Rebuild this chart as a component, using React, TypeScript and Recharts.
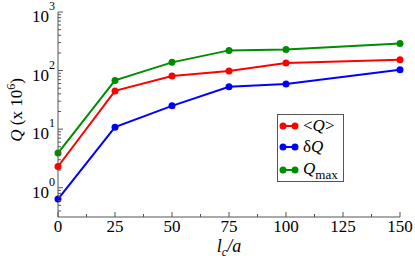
import React from "react";
import { LineChart, Line, XAxis, YAxis, Legend } from "recharts";

// l_c / a values
const lcValues = [0, 25, 50, 75, 100, 150];
// Q in units of 10^6
const meanQ = [2.3, 45, 81, 98, 134, 153];
const deltaQ = [0.64, 10.8, 25, 53, 59, 103];
const maxQ = [3.9, 68, 138, 221, 230, 291];

const xMajorTicks = [0, 25, 50, 75, 100, 125, 150];
const xTicks = [0, 12.5, 25, 37.5, 50, 62.5, 75, 87.5, 100, 112.5, 125, 137.5, 150];
const yMajorTicks = [1, 10, 100, 1000];
const yTicks = [
  0.4, 0.5, 0.6, 0.7, 0.8, 0.9,
  1, 2, 3, 4, 5, 6, 7, 8, 9,
  10, 20, 30, 40, 50, 60, 70, 80, 90,
  100, 200, 300, 400, 500, 600, 700, 800, 900,
  1000,
];

const data = lcValues.map((lc, i) => ({
  lc,
  mean: meanQ[i],
  delta: deltaQ[i],
  max: maxQ[i],
}));

const FONT = "Liberation Serif, Times New Roman, serif";
const FRAME = "#555";
const RED = "#ff0000";
const BLUE = "#0000ff";
const GREEN = "#008c00";

const isMajorX = (v: number) => xMajorTicks.includes(v);
const isMajorY = (v: number) => yMajorTicks.includes(v);

const BottomTick = (props: any) => {
  const { x, y, payload } = props;
  const major = isMajorX(payload.value);
  return (
    <g>
      <line x1={x} x2={x} y1={y} y2={y - (major ? 5 : 3)} stroke={FRAME} />
      {major && (
        <text x={x} y={y + 15} textAnchor="middle" fontFamily={FONT} fontSize={17} fill="#000">
          {payload.value}
        </text>
      )}
    </g>
  );
};

const TopTick = (props: any) => {
  const { x, y, payload } = props;
  const major = isMajorX(payload.value);
  return <line x1={x} x2={x} y1={y} y2={y + (major ? 5 : 3)} stroke={FRAME} />;
};

const LeftTick = (props: any) => {
  const { x, y, payload } = props;
  const v = payload.value;
  const major = isMajorY(v);
  return (
    <g>
      <line x1={x} x2={x + (major ? 5 : 3)} y1={y} y2={y} stroke={FRAME} />
      {major && (
        <text x={x - 3} y={y + 10} textAnchor="end" fontFamily={FONT} fontSize={17} fill="#000">
          10
          <tspan dy={-12} fontSize={12}>
            {Math.round(Math.log10(v))}
          </tspan>
        </text>
      )}
    </g>
  );
};

const RightTick = (props: any) => {
  const { x, y, payload } = props;
  const major = isMajorY(payload.value);
  return <line x1={x} x2={x - (major ? 5 : 3)} y1={y} y2={y} stroke={FRAME} />;
};

const YLabel = () => (
  <text
    transform="translate(22, 110) rotate(-90)"
    textAnchor="middle"
    fontFamily={FONT}
    fontSize={17}
    fill="#000"
  >
    <tspan fontStyle="italic">Q</tspan>
    <tspan> (x 10</tspan>
    <tspan dy={-7} fontSize={12}>6</tspan>
    <tspan dy={7}>)</tspan>
  </text>
);

const XLabel = () => (
  <text x={229} y={252} textAnchor="middle" fontFamily={FONT} fontSize={18} fill="#000">
    <tspan fontStyle="italic">l</tspan>
    <tspan dy={4} fontSize={12} fontStyle="italic">c</tspan>
    <tspan dy={-4} fontStyle="italic">/a</tspan>
  </text>
);

const legendItems = [
  { color: RED, label: "mean" },
  { color: BLUE, label: "delta" },
  { color: GREEN, label: "max" },
];

const LegendBox = () => {
  const rows = [11, 32, 55];
  return (
    <div
      style={{
        width: 67,
        height: 68,
        border: `1px solid ${FRAME}`,
        background: "#fff",
        boxSizing: "border-box",
        overflow: "hidden",
      }}
    >
      <svg width={66} height={67} style={{ display: "block" }}>
        {legendItems.map((item, i) => (
          <g key={item.label}>
            <line x1={5} x2={17} y1={rows[i]} y2={rows[i]} stroke={item.color} strokeWidth={2} />
            <circle cx={5} cy={rows[i]} r={3.5} fill={item.color} />
            <circle cx={17} cy={rows[i]} r={3.5} fill={item.color} />
          </g>
        ))}
        <text x={25} y={16} fontFamily={FONT} fontSize={17} fill="#000">
          {"<"}
          <tspan fontStyle="italic">Q</tspan>
          {">"}
        </text>
        <text x={25} y={37} fontFamily={FONT} fontSize={17} fill="#000">
          δ<tspan fontStyle="italic">Q</tspan>
        </text>
        <text x={25} y={59} fontFamily={FONT} fontSize={17} fill="#000">
          <tspan fontStyle="italic">Q</tspan>
          <tspan dy={5} fontSize={13}>max</tspan>
        </text>
      </svg>
    </div>
  );
};

export default function App() {
  return (
    <div style={{ position: "absolute", left: 0, top: 0, width: 415, height: 259, background: "#fff" }}>
      <LineChart width={415} height={259} data={data} margin={{ top: 12, right: 15, bottom: 0, left: 0 }}>
        <XAxis
          xAxisId="bottom"
          dataKey="lc"
          type="number"
          domain={[0, 150]}
          ticks={xTicks}
          interval={0}
          height={42}
          tickSize={0}
          tickMargin={0}
          tickLine={false}
          axisLine={{ stroke: FRAME }}
          tick={<BottomTick />}
        />
        <XAxis
          xAxisId="top"
          orientation="top"
          dataKey="lc"
          type="number"
          domain={[0, 150]}
          ticks={xTicks}
          interval={0}
          height={0}
          tickSize={0}
          tickMargin={0}
          tickLine={false}
          axisLine={{ stroke: FRAME }}
          tick={<TopTick />}
        />
        <YAxis
          yAxisId="left"
          scale="log"
          type="number"
          domain={[0.316, 1000]}
          allowDataOverflow
          ticks={yTicks}
          interval={0}
          width={58}
          tickSize={0}
          tickMargin={0}
          tickLine={false}
          axisLine={{ stroke: FRAME }}
          tick={<LeftTick />}
        />
        <YAxis
          yAxisId="right"
          orientation="right"
          scale="log"
          type="number"
          domain={[0.316, 1000]}
          allowDataOverflow
          ticks={yTicks}
          interval={0}
          width={0}
          tickSize={0}
          tickMargin={0}
          tickLine={false}
          axisLine={{ stroke: FRAME }}
          tick={<RightTick />}
        />
        <Line xAxisId="bottom" yAxisId="left" dataKey="mean" stroke={RED} strokeWidth={2} dot={{ r: 3.5, fill: RED, stroke: RED, strokeWidth: 0 }} isAnimationActive={false} />
        <Line xAxisId="bottom" yAxisId="left" dataKey="delta" stroke={BLUE} strokeWidth={2} dot={{ r: 3.5, fill: BLUE, stroke: BLUE, strokeWidth: 0 }} isAnimationActive={false} />
        <Line xAxisId="bottom" yAxisId="left" dataKey="max" stroke={GREEN} strokeWidth={2} dot={{ r: 3.5, fill: GREEN, stroke: GREEN, strokeWidth: 0 }} isAnimationActive={false} />
        <Legend
          layout="horizontal"
          verticalAlign="middle"
          align="center"
          content={<LegendBox />}
          wrapperStyle={{ left: 277, top: 114, width: 67, height: 68 }}
        />
        <YLabel />
        <XLabel />
      </LineChart>
    </div>
  );
}
